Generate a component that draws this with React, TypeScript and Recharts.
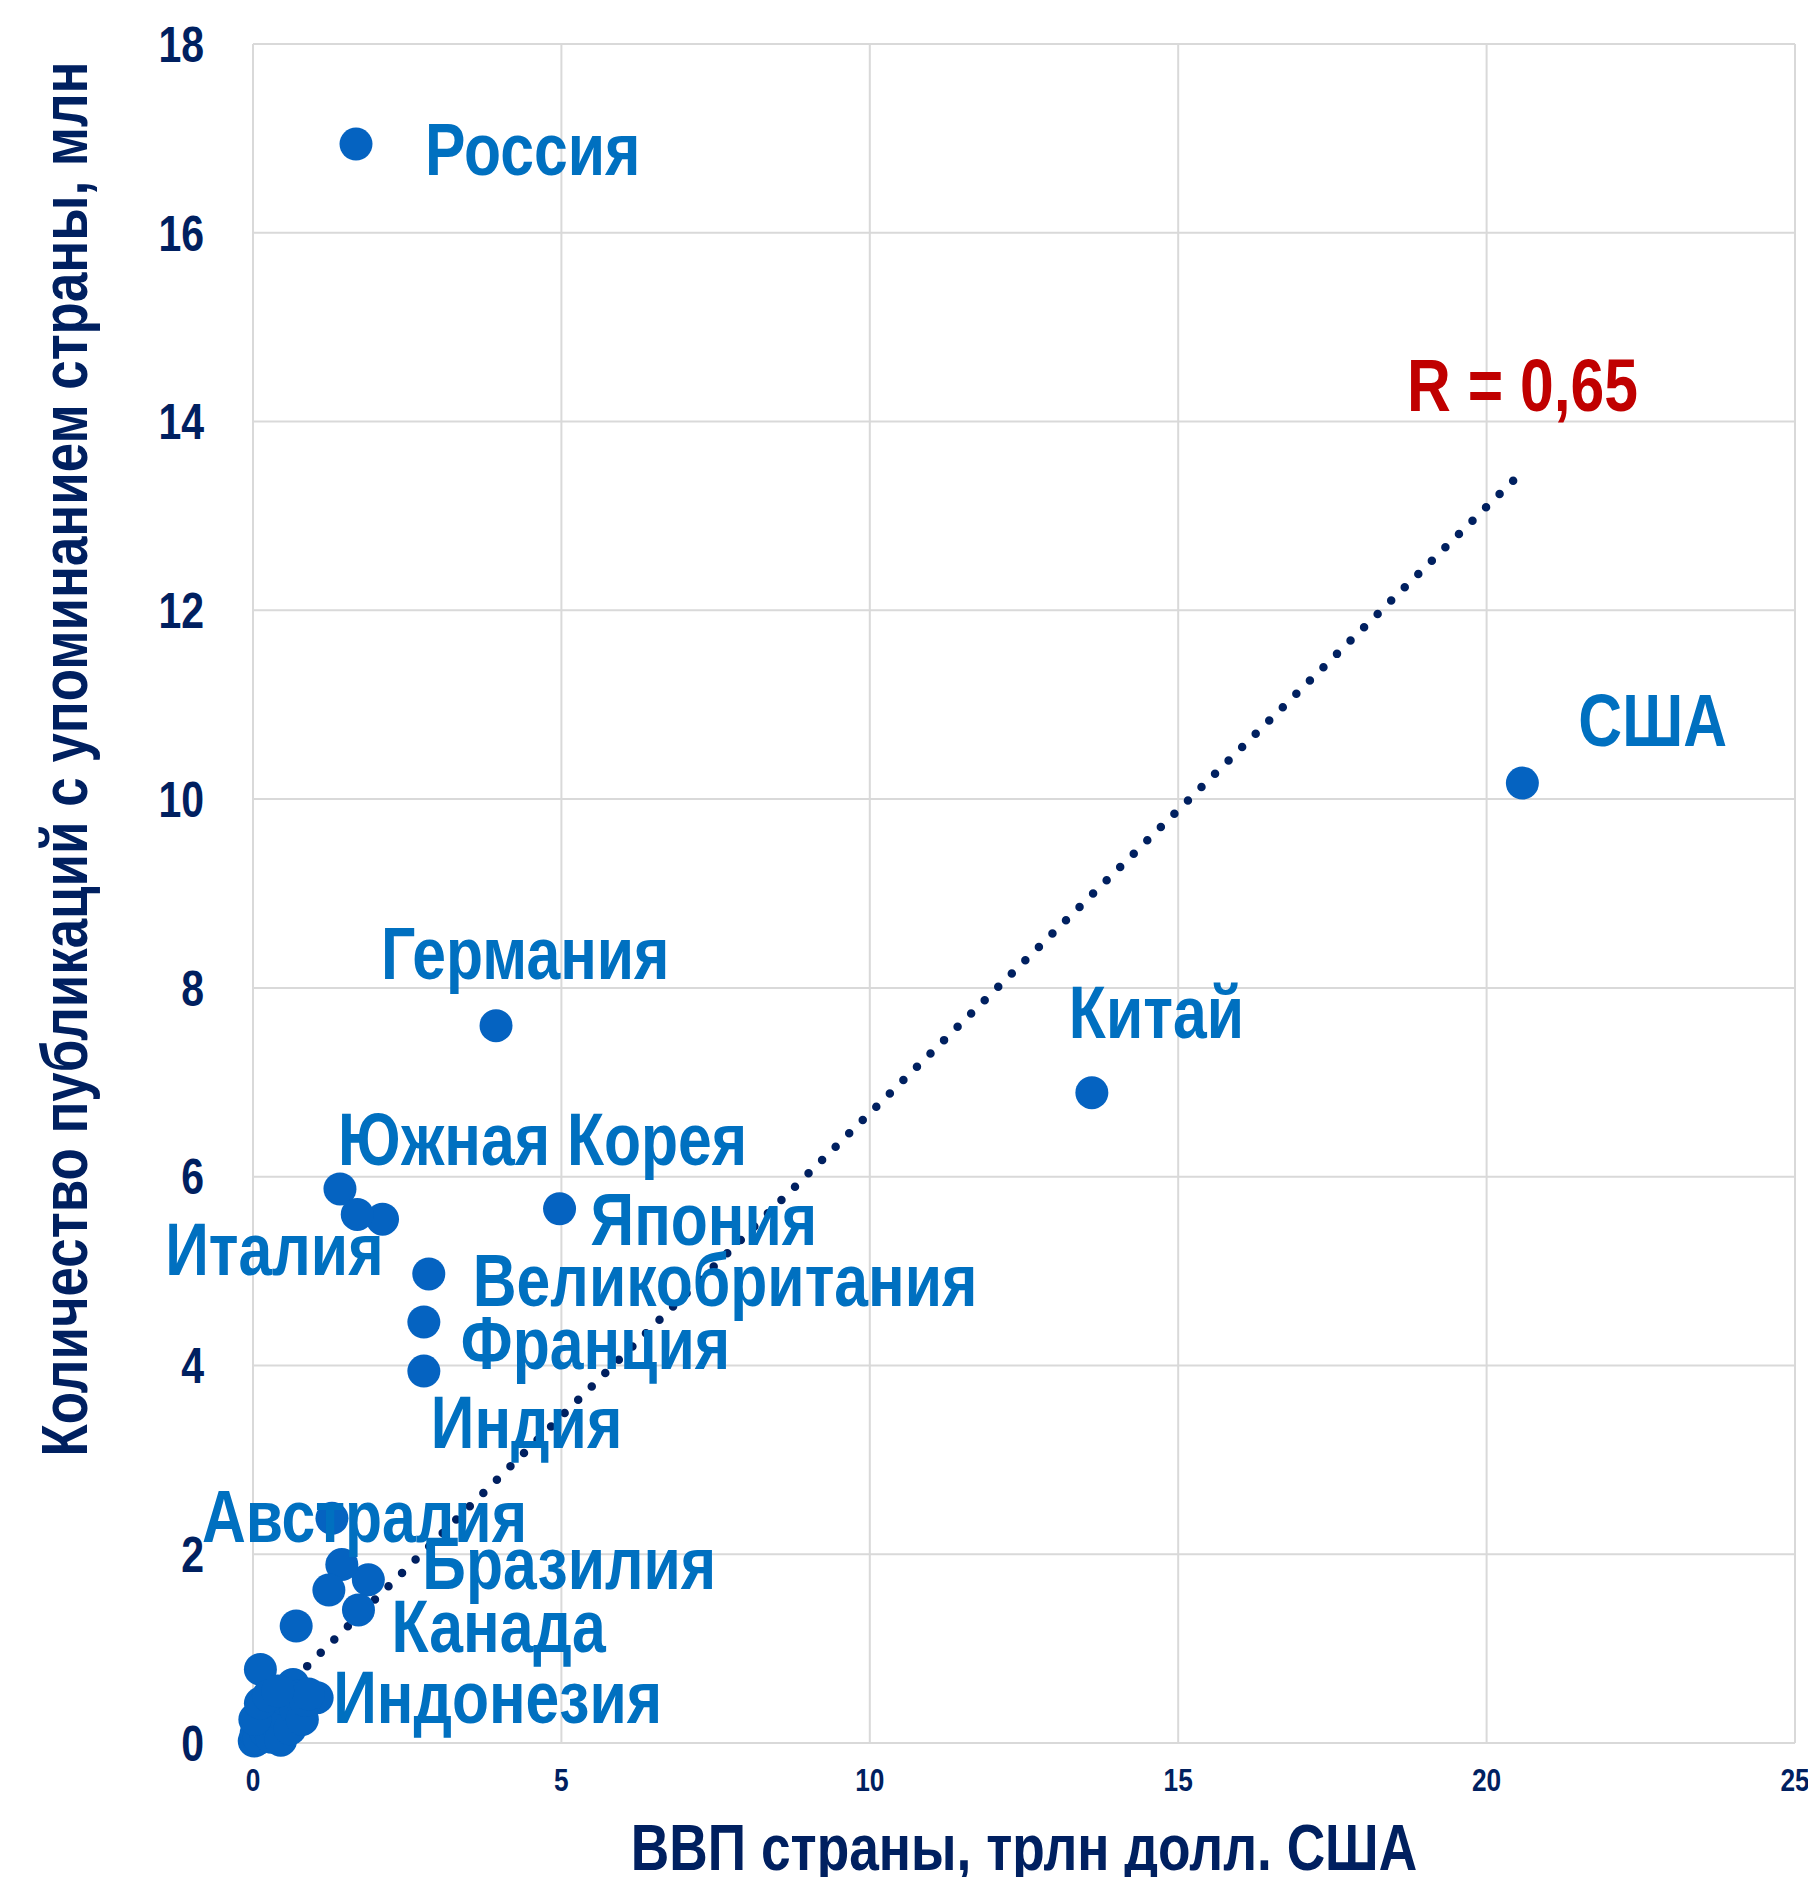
import React from "react";
import {
  ScatterChart,
  Scatter,
  XAxis,
  YAxis,
  CartesianGrid,
  ReferenceLine,
} from "recharts";

// labelled countries: GDP (trln USD) vs publications (mln)
const countries = [
  "Россия", "США", "Китай", "Германия", "Япония", "Южная Корея", "Италия",
  "Великобритания", "Франция", "Индия", "Австралия", "Бразилия", "Канада", "Индонезия",
];
const countryGdp = [1.67, 20.58, 13.6, 3.94, 4.97, 1.41, 2.1, 2.85, 2.77, 2.77, 1.28, 1.87, 1.71, 1.04];
const countryPubs = [16.94, 10.17, 6.89, 7.6, 5.66, 5.87, 5.55, 4.97, 4.46, 3.94, 2.38, 1.73, 1.41, 0.48];

// unlabelled countries
const otherGdp = [
  1.69, 1.44, 1.23, 0.7, 0.12, 0.02, 0.05, 0.08, 0.1, 0.15, 0.2, 0.25, 0.3, 0.35, 0.4,
  0.45, 0.5, 0.55, 0.6, 0.65, 0.7, 0.75, 0.8, 0.85, 0.9, 0.03, 0.12, 0.25, 0.4,
];
const otherPubs = [
  5.6, 1.89, 1.62, 1.24, 0.78, 0.02, 0.1, 0.2, 0.05, 0.3, 0.12, 0.22, 0.06, 0.35, 0.18,
  0.03, 0.28, 0.45, 0.15, 0.62, 0.35, 0.5, 0.25, 0.45, 0.52, 0.25, 0.42, 0.5, 0.55,
];

// linear trend endpoints
const trendGdp = [0, 20.55];
const trendPubs = [0.25, 13.45];

const xTicks = [0, 5, 10, 15, 20, 25];
const yTicks = [0, 2, 4, 6, 8, 10, 12, 14, 16, 18];

const xTitle = "ВВП страны, трлн долл. США";
const yTitle = "Количество публикаций с упоминанием страны, млн";
const rText = "R = 0,65";

// label placement relative to the dot centre (px)
const labelOffsets: Record<string, { dx: number; dy: number; anchor?: string }> = {
  "Россия": { dx: 69, dy: 31 },
  "США": { dx: 56, dy: -37 },
  "Китай": { dx: -23, dy: -55 },
  "Германия": { dx: -115, dy: -47 },
  "Япония": { dx: 31, dy: 36 },
  "Южная Корея": { dx: -2, dy: -24 },
  "Италия": { dx: 1, dy: 56, anchor: "end" },
  "Великобритания": { dx: 44, dy: 32 },
  "Франция": { dx: 37, dy: 47 },
  "Индия": { dx: 7, dy: 77 },
  "Австралия": { dx: -130, dy: 24 },
  "Бразилия": { dx: 54, dy: 9 },
  "Канада": { dx: 33, dy: 42 },
  "Индонезия": { dx: 16, dy: 25 },
};

const W = 1808;
const H = 1877;
const FONT = '"Liberation Sans", Arial, sans-serif';
const NARROW = 0.82; // no Arial Narrow available, squeeze Liberation Sans instead
const NAVY = "#002060";
const DOT = "#0563C1";
const LABEL = "#0070C0";

const labelled = countries.map((name, i) => ({ name, x: countryGdp[i], y: countryPubs[i] }));
const allPoints = [
  ...labelled,
  ...otherGdp.map((x, i) => ({ name: "", x, y: otherPubs[i] })),
];

function NarrowText({ x, y, size, fill, anchor = "start", rotate = 0, dy, children }: any) {
  return (
    <text
      transform={`translate(${x},${y}) rotate(${rotate}) scale(${NARROW},1)`}
      textAnchor={anchor}
      dy={dy}
      fill={fill}
      fontSize={size}
      fontWeight={700}
      fontFamily={FONT}
    >
      {children}
    </text>
  );
}

function XTick(props: any) {
  const { x, y, payload } = props;
  return (
    <NarrowText x={x} y={y} size={32} fill={NAVY} anchor="middle" dy="0.71em">
      {payload.value}
    </NarrowText>
  );
}

function YTick(props: any) {
  const { x, y, payload } = props;
  return (
    <NarrowText x={x} y={y} size={50} fill={NAVY} anchor="end" dy="0.355em">
      {payload.value}
    </NarrowText>
  );
}

function Dot(props: any) {
  if (props.cx == null) return null;
  return <circle cx={props.cx} cy={props.cy} r={16.5} fill={DOT} />;
}

function CountryLabel(props: any) {
  if (props.cx == null) return null;
  const name = props.payload?.name;
  const o = labelOffsets[name] || { dx: 20, dy: 20 };
  return (
    <NarrowText x={props.cx + o.dx} y={props.cy + o.dy} size={74} fill={LABEL} anchor={o.anchor || "start"}>
      {name}
    </NarrowText>
  );
}

export default function App() {
  return (
    <div style={{ position: "absolute", left: 0, top: 0, width: W, height: H, background: "#fff" }}>
      <ScatterChart width={W} height={H} margin={{ top: 44, right: 13, bottom: 74, left: 153 }}>
        <CartesianGrid stroke="#D9D9D9" strokeWidth={2} />
        <XAxis
          type="number"
          dataKey="x"
          domain={[0, 25]}
          ticks={xTicks}
          interval={0}
          height={60}
          axisLine={false}
          tickLine={false}
          tickMargin={19}
          tick={<XTick />}
        />
        <YAxis
          type="number"
          dataKey="y"
          domain={[0, 18]}
          ticks={yTicks}
          interval={0}
          width={100}
          axisLine={false}
          tickLine={false}
          tickMargin={43}
          tick={<YTick />}
        />
        <Scatter data={allPoints} shape={<Dot />} isAnimationActive={false} />
        <Scatter data={labelled} shape={<CountryLabel />} isAnimationActive={false} />
        <ReferenceLine
          segment={[
            { x: trendGdp[0], y: trendPubs[0] },
            { x: trendGdp[1], y: trendPubs[1] },
          ]}
          stroke={NAVY}
          strokeWidth={8.5}
          strokeDasharray="0 19"
          strokeLinecap="round"
          ifOverflow="visible"
        />
      </ScatterChart>
      <svg
        width={W}
        height={H}
        style={{ position: "absolute", left: 0, top: 0, pointerEvents: "none" }}
      >
        <NarrowText x={1024} y={1870} size={65} fill={NAVY} anchor="middle">
          {xTitle}
        </NarrowText>
        <NarrowText x={87} y={759} size={64.5} fill={NAVY} anchor="middle" rotate={-90}>
          {yTitle}
        </NarrowText>
        <NarrowText x={1407} y={411} size={74} fill="#C00000">
          {rText}
        </NarrowText>
      </svg>
    </div>
  );
}
